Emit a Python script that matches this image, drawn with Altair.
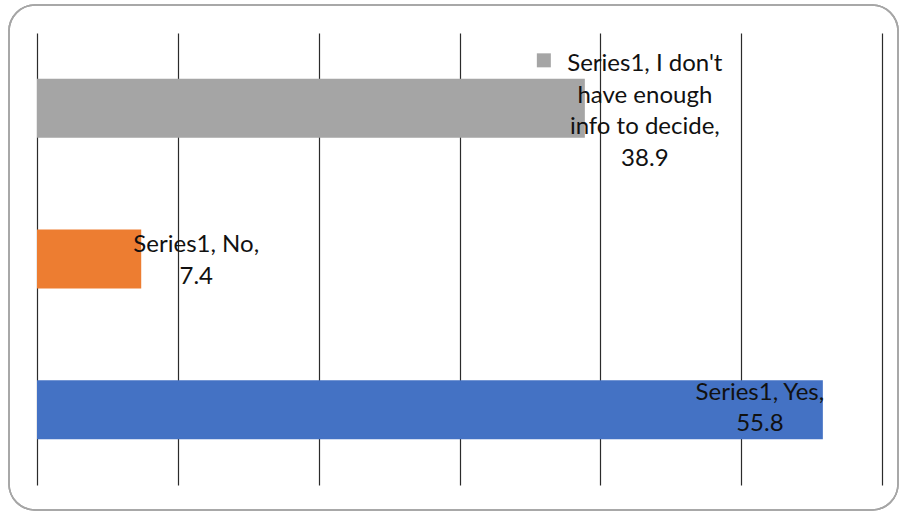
import altair as alt
import pandas as pd

categories = ["I don't have enough info to decide", "No", "Yes"]
values = [38.9, 7.4, 55.8]
label_lines = [
    ["Series1, I don't", "have enough", "info to decide,", "38.9"],
    ["Series1, No,", "7.4"],
    ["Series1, Yes,", "55.8"],
]
colors = ["#A5A5A5", "#ED7D31", "#4472C4"]
x_ticks = [0, 10, 20, 30, 40, 50, 60]

df = pd.DataFrame({
    "cat": categories,
    "val": values,
    "label": label_lines,
    "color": colors,
})

W, H = 845, 452

xs = alt.Scale(domain=[0, 60], nice=False, zero=True)
ys = alt.Scale(domain=categories, paddingInner=0, paddingOuter=0)

x_enc = alt.X("val:Q", scale=xs,
              axis=alt.Axis(values=x_ticks, labels=False, ticks=False, domain=False,
                            grid=True, gridColor="#2b2b2b", gridWidth=1.2, title=None))
y_enc = alt.Y("cat:N", scale=ys, sort=categories,
              axis=alt.Axis(labels=False, ticks=False, domain=False, grid=False, title=None))

frame = alt.Chart(df).mark_rect(
    fill=None, stroke="#a6a6a6", strokeWidth=1.5, cornerRadius=26
).encode(
    x=alt.value(-28), x2=alt.value(861), y=alt.value(-28), y2=alt.value(477)
)

bars = alt.Chart(df).mark_bar(size=59).encode(
    x=x_enc,
    y=y_enc,
    color=alt.Color("color:N", scale=None, legend=None),
)

label_offsets = {categories[0]: (60, -44), categories[1]: (55, -14), categories[2]: (-63, -17)}
layers = [frame, bars]
for cat in categories:
    dx, dy = label_offsets[cat]
    layers.append(
        alt.Chart(df).transform_filter(alt.datum.cat == cat).mark_text(
            font="Lato", fontSize=24, color="#111111", align="center",
            baseline="middle", lineHeight=31.5, dx=dx, dy=dy
        ).encode(x=alt.X("val:Q", scale=xs), y=alt.Y("cat:N", scale=ys, sort=categories),
                 text="label")
    )

key = alt.Chart(df).transform_filter(alt.datum.cat == categories[0]).mark_square(
    size=196, opacity=1, filled=True, xOffset=-41, yOffset=-48
).encode(x=alt.X("val:Q", scale=xs), y=alt.Y("cat:N", scale=ys, sort=categories),
         color=alt.Color("color:N", scale=None, legend=None))
layers.append(key)

chart = alt.layer(*layers).properties(
    width=W, height=H,
    padding={"left": 37, "top": 33, "right": 17, "bottom": 27},
    autosize="none",
    background="white",
).configure_view(stroke=None)

chart.save("out.html", embed_options={"renderer": "svg", "actions": False})
